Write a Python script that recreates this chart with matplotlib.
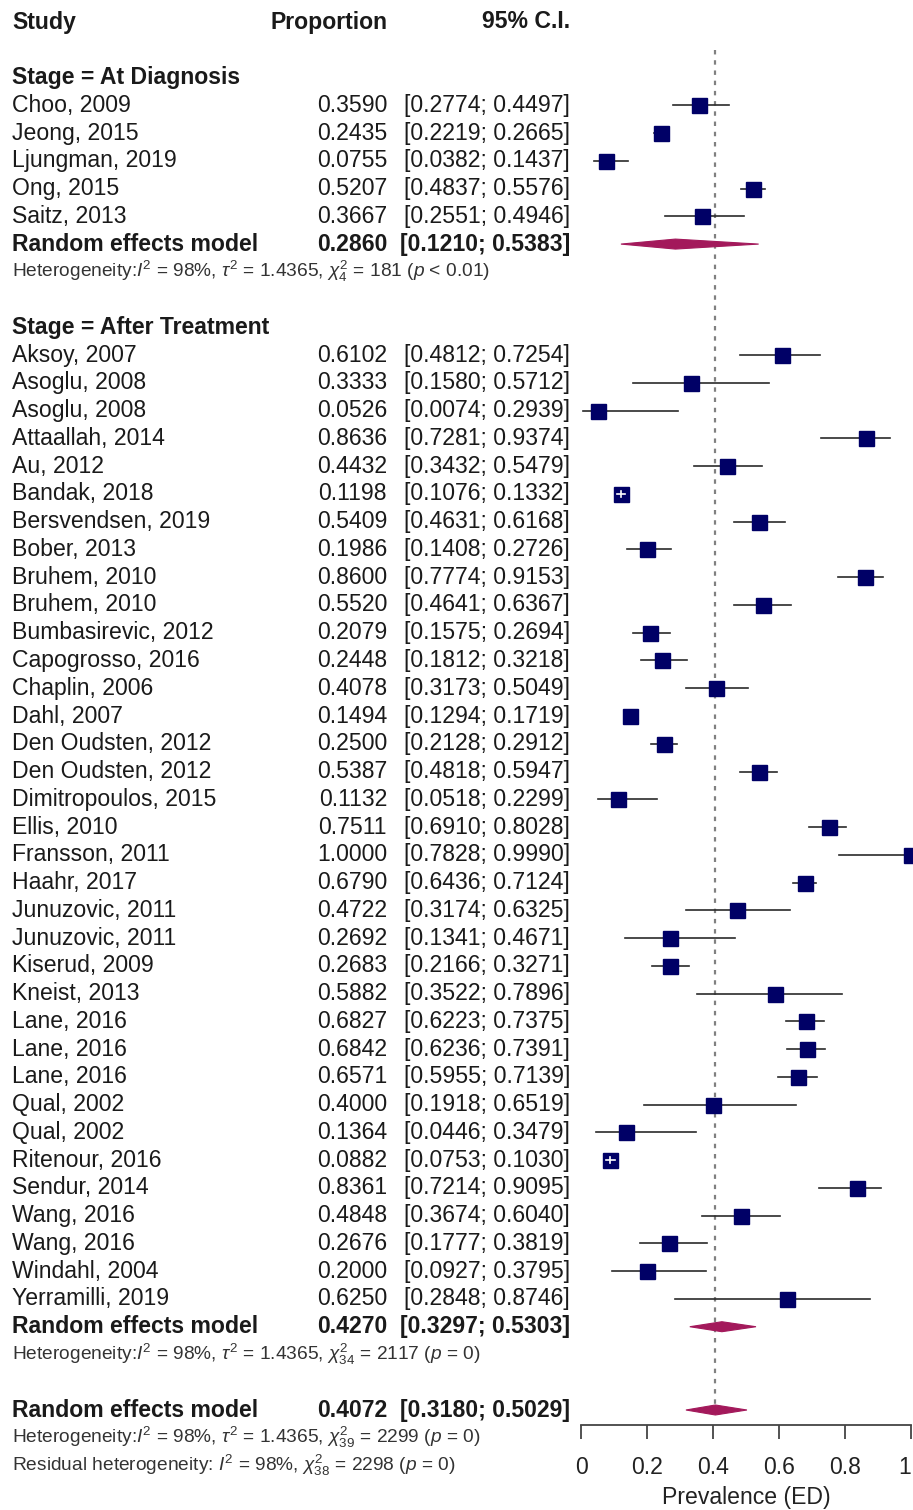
import matplotlib.pyplot as plt
from matplotlib.patches import Polygon

plt.rcParams['font.family'] = ['Liberation Sans', 'DejaVu Sans']
plt.rcParams['mathtext.fontset'] = 'custom'
plt.rcParams['mathtext.rm'] = 'Liberation Sans'
plt.rcParams['mathtext.it'] = 'Liberation Sans:italic'
plt.rcParams['mathtext.bf'] = 'Liberation Sans:bold'

# At Diagnosis
diag_study = ['Choo, 2009', 'Jeong, 2015', 'Ljungman, 2019', 'Ong, 2015', 'Saitz, 2013']
diag_prop = [0.3590, 0.2435, 0.0755, 0.5207, 0.3667]
diag_lo = [0.2774, 0.2219, 0.0382, 0.4837, 0.2551]
diag_hi = [0.4497, 0.2665, 0.1437, 0.5576, 0.4946]
diag_re = (0.2860, 0.1210, 0.5383)

# After Treatment
treat_study = ['Aksoy, 2007', 'Asoglu, 2008', 'Asoglu, 2008', 'Attaallah, 2014', 'Au, 2012',
               'Bandak, 2018', 'Bersvendsen, 2019', 'Bober, 2013', 'Bruhem, 2010', 'Bruhem, 2010',
               'Bumbasirevic, 2012', 'Capogrosso, 2016', 'Chaplin, 2006', 'Dahl, 2007',
               'Den Oudsten, 2012', 'Den Oudsten, 2012', 'Dimitropoulos, 2015', 'Ellis, 2010',
               'Fransson, 2011', 'Haahr, 2017', 'Junuzovic, 2011', 'Junuzovic, 2011',
               'Kiserud, 2009', 'Kneist, 2013', 'Lane, 2016', 'Lane, 2016', 'Lane, 2016',
               'Qual, 2002', 'Qual, 2002', 'Ritenour, 2016', 'Sendur, 2014', 'Wang, 2016',
               'Wang, 2016', 'Windahl, 2004', 'Yerramilli, 2019']
treat_prop = [0.6102, 0.3333, 0.0526, 0.8636, 0.4432, 0.1198, 0.5409, 0.1986, 0.8600, 0.5520,
              0.2079, 0.2448, 0.4078, 0.1494, 0.2500, 0.5387, 0.1132, 0.7511, 1.0000, 0.6790,
              0.4722, 0.2692, 0.2683, 0.5882, 0.6827, 0.6842, 0.6571, 0.4000, 0.1364, 0.0882,
              0.8361, 0.4848, 0.2676, 0.2000, 0.6250]
treat_lo = [0.4812, 0.1580, 0.0074, 0.7281, 0.3432, 0.1076, 0.4631, 0.1408, 0.7774, 0.4641,
            0.1575, 0.1812, 0.3173, 0.1294, 0.2128, 0.4818, 0.0518, 0.6910, 0.7828, 0.6436,
            0.3174, 0.1341, 0.2166, 0.3522, 0.6223, 0.6236, 0.5955, 0.1918, 0.0446, 0.0753,
            0.7214, 0.3674, 0.1777, 0.0927, 0.2848]
treat_hi = [0.7254, 0.5712, 0.2939, 0.9374, 0.5479, 0.1332, 0.6168, 0.2726, 0.9153, 0.6367,
            0.2694, 0.3218, 0.5049, 0.1719, 0.2912, 0.5947, 0.2299, 0.8028, 0.9990, 0.7124,
            0.6325, 0.4671, 0.3271, 0.7896, 0.7375, 0.7391, 0.7139, 0.6519, 0.3479, 0.1030,
            0.9095, 0.6040, 0.3819, 0.3795, 0.8746]
treat_re = (0.4270, 0.3297, 0.5303)

overall_re = (0.4072, 0.3180, 0.5029)

het_diag = r'Heterogeneity:$I^2$ = 98%, $\tau^2$ = 1.4365, $\chi^2_4$ = 181 ($p$ < 0.01)'
het_treat = r'Heterogeneity:$I^2$ = 98%, $\tau^2$ = 1.4365, $\chi^2_{34}$ = 2117 ($p$ = 0)'
het_all = r'Heterogeneity:$I^2$ = 98%, $\tau^2$ = 1.4365, $\chi^2_{39}$ = 2299 ($p$ = 0)'
het_resid = r'Residual heterogeneity: $I^2$ = 98%, $\chi^2_{38}$ = 2298 ($p$ = 0)'

W, H = 913, 1510
ROW0, ROWH = 22, 27.76
fig = plt.figure(figsize=(W / 100, H / 100), dpi=100)
ax = fig.add_axes([581 / W, 0, 330 / W, 1])
ax.set_xlim(0, 1)
ax.set_ylim((H - ROW0) / ROWH, -ROW0 / ROWH)


def px(x):
    return (x - 581) / 330


FS = 16.6
FS_HET = 13.8
TXT = '#1a1a1a'
SQ = '#000066'
DIA = '#A3195B'
x_study, x_prop, x_ci = px(12), px(387), px(570)


def fmt(v):
    return f'{v:.4f}'


def study_row(r, name, p, lo, hi):
    ax.text(x_study, r, name, fontsize=FS, va='center', ha='left', color=TXT)
    ax.text(x_prop, r, fmt(p), fontsize=FS, va='center', ha='right', color=TXT)
    ax.text(x_ci, r, f'[{fmt(lo)}; {fmt(hi)}]', fontsize=FS, va='center', ha='right', color=TXT)
    ax.plot([lo, hi], [r, r], color='#2a2a2a', lw=1.2, clip_on=False, zorder=3)
    ax.plot(p, r, marker='s', ms=10.8, color=SQ, mec=SQ, clip_on=False, zorder=4)
    if hi - lo < 0.035:
        ax.plot([lo, hi], [r, r], color='white', lw=1.2, clip_on=False, zorder=5)
        ax.plot([p, p], [r - 0.1, r + 0.1], color='white', lw=1.2, clip_on=False, zorder=5)


def model_row(r, est, lo, hi):
    ax.text(x_study, r, 'Random effects model', fontsize=FS, fontweight='bold', va='center', color=TXT)
    ax.text(x_prop, r, fmt(est), fontsize=FS, fontweight='bold', va='center', ha='right', color=TXT)
    ax.text(x_ci, r, f'[{fmt(lo)}; {fmt(hi)}]', fontsize=FS, fontweight='bold',
            va='center', ha='right', color=TXT)
    h = 0.18
    ax.add_patch(Polygon([(lo, r), (est, r - h), (hi, r), (est, r + h)], closed=True,
                         facecolor=DIA, edgecolor=DIA, lw=0.8, zorder=4, clip_on=False))


def het_row(r, s):
    ax.text(x_study, r, s, fontsize=FS_HET, va='center', ha='left', color='#333333')


# header
ax.text(x_study, 0, 'Study', fontsize=FS, fontweight='bold', va='center', color=TXT)
ax.text(x_prop, 0, 'Proportion', fontsize=FS, fontweight='bold', va='center', ha='right', color=TXT)
ax.text(x_ci, 0, '95% C.I.', fontsize=FS, fontweight='bold', va='center', ha='right', color=TXT)

r = 2
ax.text(x_study, r, 'Stage = At Diagnosis', fontsize=FS, fontweight='bold', va='center', color=TXT)
for i, name in enumerate(diag_study):
    study_row(r + 1 + i, name, diag_prop[i], diag_lo[i], diag_hi[i])
r = r + 1 + len(diag_study)
model_row(r, *diag_re)
het_row(r + 1, het_diag)

r = r + 3
ax.text(x_study, r, 'Stage = After Treatment', fontsize=FS, fontweight='bold', va='center', color=TXT)
for i, name in enumerate(treat_study):
    study_row(r + 1 + i, name, treat_prop[i], treat_lo[i], treat_hi[i])
r = r + 1 + len(treat_study)
model_row(r, *treat_re)
het_row(r + 1, het_treat)

r = r + 3
model_row(r, *overall_re)
het_row(r + 1, het_all)
het_row(r + 2, het_resid)

# reference line at overall estimate
axis_y = (1425 - ROW0) / ROWH
ax.plot([overall_re[0]] * 2, [1.0, axis_y - 0.25], color='#808080', lw=1.6,
        linestyle=(0, (2, 2.6)), zorder=2)

# x axis
for s in ['top', 'left', 'right']:
    ax.spines[s].set_visible(False)
ax.spines['bottom'].set_position(('data', axis_y))
ax.spines['bottom'].set_bounds(0, 1)
ax.spines['bottom'].set_color('#444444')
ax.spines['bottom'].set_linewidth(1.3)
ax.set_yticks([])
ax.set_xticks([0, 0.2, 0.4, 0.6, 0.8, 1.0])
ax.set_xticklabels(['0', '0.2', '0.4', '0.6', '0.8', '1'])
ax.tick_params(axis='x', direction='out', length=10, width=1.3, color='#444444',
               labelsize=FS, labelcolor='#222222', pad=12)
ax.get_xticklabels()[-1].set_horizontalalignment('right')
ax.set_xlabel('Prevalence (ED)', fontsize=FS, color='#222222', labelpad=5)
ax.patch.set_visible(False)

fig.savefig('out.png', dpi=100)
